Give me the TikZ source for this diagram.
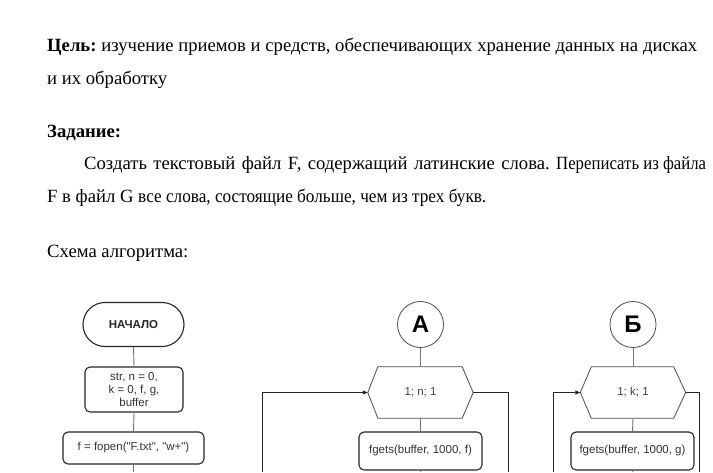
\documentclass[tikz,border=0pt]{standalone}
\usepackage{fontspec}
\setmainfont{Liberation Serif}
\newfontfamily\flowfont{Liberation Sans}
\usetikzlibrary{arrows.meta}
\begin{document}
\frenchspacing
\begin{tikzpicture}[x=1pt,y=-1pt,
  txt/.style={anchor=base west, inner sep=0pt, font=\frenchspacing\fontsize{18.67}{22}\selectfont},
  termbox/.style={draw=black!85, line width=1.1pt, rounded corners=22pt, minimum width=101pt, minimum height=44pt, inner sep=0pt, font=\flowfont\bfseries\fontsize{11.5}{13}\selectfont, text=black!85},
  procbox/.style={draw=black!85, line width=1.1pt, rounded corners=5pt, align=center, inner sep=0pt, font=\flowfont\fontsize{11.5}{13}\selectfont, text=black!80},
  hexbox/.style={minimum width=105pt, minimum height=51pt, inner sep=0pt, font=\flowfont\fontsize{11.5}{13}\selectfont, text=black!75},
  hexline/.style={draw=black!70, line width=0.8pt},
  connbox/.style={circle, draw=black!70, line width=0.8pt, minimum size=46pt, inner sep=0pt, font=\flowfont\bfseries\fontsize{24}{24}\selectfont, text=black},
  conn/.style={draw=black!55, line width=0.9pt},
  loopline/.style={draw=black!85, line width=0.7pt},
  loopin/.style={loopline, -{Triangle[length=5pt,width=4pt]}}
]
\useasboundingbox (0,0) rectangle (713,472);
\fill[white] (0,0) rectangle (713,472);

% text
\node[txt] (t1) at (47,51) {\makebox[650pt][s]{\textbf{Цель:} изучение приемов и средств, обеспечивающих хранение данных на дисках}};
\node[txt] (t2) at (47,84) {и их обработку};
\node[txt] (t3) at (47,137.5) {\textbf{Задание:}};
\node[txt] (t4) at (84,169.5) {\makebox[622pt][s]{Создать текстовый файл F, содержащий латинские слова. \resizebox{150pt}{\height}{Переписать из файла}}};
\node[txt] (t5) at (47,202) {F в файл G \resizebox{348pt}{\height}{все слова, состоящие больше, чем из трех букв.}};
\node[txt] (t6) at (47,257) {Схема алгоритма:};

% left column
\node[termbox] (start) at (133.5,324.5) {НАЧАЛО};
\node[procbox, minimum width=98pt, minimum height=45pt] (init) at (134,389.5) {str, n = 0,\\k = 0, f, g,\\buffer};
\node[procbox, minimum width=141pt, minimum height=32pt] (fopen) at (133.5,448) {f = fopen("F.txt", "w+")};
\coordinate (e1) at (133.5,472);
\draw[conn] (start.south) -- (init.north);
\draw[conn] (init.south) -- (fopen.north);
\draw[conn] (fopen.south) -- (e1);

% column A
\node[connbox] (cA) at (420.5,324.5) {А};
\node[hexbox] (hA) at (420.5,392.5) {1; n; 1};
\draw[hexline] (hA.west) -- ([xshift=10pt]hA.north west) -- ([xshift=-11pt]hA.north east) -- (hA.east) -- ([xshift=-11pt]hA.south east) -- ([xshift=10pt]hA.south west) -- cycle;
\node[procbox, minimum width=123pt, minimum height=38pt] (gA) at (420.5,451) {fgets(buffer, 1000, f)};
\coordinate (eA) at (420.5,472);
\coordinate (lA) at (262,472);
\coordinate (rA) at (508,472);
\draw[conn] (cA.south) -- (hA.north);
\draw[conn] (hA.south) -- (gA.north);
\draw[conn] (gA.south) -- (eA);
\draw[loopin] (lA) |- (hA.west);
\draw[loopline] (hA.east) -| (rA);

% column B
\node[connbox] (cB) at (633,324.5) {Б};
\node[hexbox] (hB) at (633,392.5) {1; k; 1};
\draw[hexline] (hB.west) -- ([xshift=11pt]hB.north west) -- ([xshift=-12pt]hB.north east) -- (hB.east) -- ([xshift=-12pt]hB.south east) -- ([xshift=11pt]hB.south west) -- cycle;
\node[procbox, minimum width=123pt, minimum height=38pt] (gB) at (632.5,451) {fgets(buffer, 1000, g)};
\coordinate (eB) at (633,472);
\coordinate (lB) at (553,472);
\coordinate (rB) at (699,472);
\draw[conn] (cB.south) -- (hB.north);
\draw[conn] (hB.south) -- (gB.north);
\draw[conn] (gB.south) -- (eB);
\draw[loopin] (lB) |- (hB.west);
\draw[loopline] (hB.east) -| (rB);
\end{tikzpicture}
\end{document}
